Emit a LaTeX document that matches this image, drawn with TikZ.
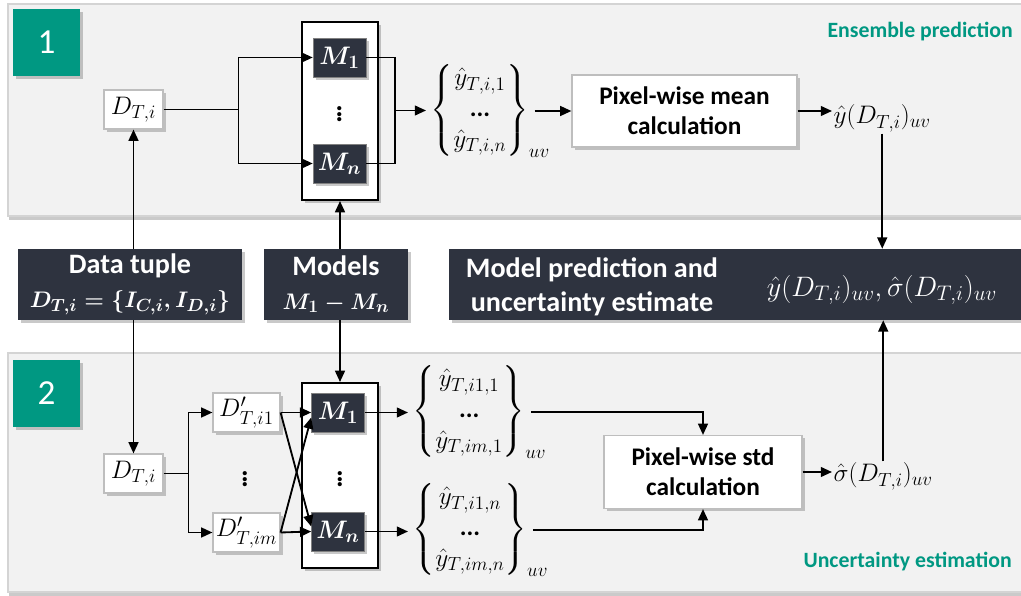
\RequirePackage{fix-cm}
\documentclass[tikz,border=0pt]{standalone}
\usepackage{amsmath,amssymb,mathtools}
\usepackage{fontspec}
\setmainfont{Carlito}
\DeclareMathSizes{16}{16}{12.5}{10}
\DeclareMathSizes{18}{18}{13.5}{10.5}
\DeclareMathSizes{20}{20}{15}{12}
\usepackage{xcolor}
\usepackage{tikz}
\usetikzlibrary{positioning,calc,arrows.meta,shadows}
\definecolor{badgeteal}{RGB}{0,152,130}
\definecolor{navybox}{RGB}{46,51,63}
\definecolor{panelfill}{RGB}{242,242,242}
\definecolor{panelline}{RGB}{212,212,212}
\definecolor{boxline}{RGB}{190,190,190}

\begin{document}
\begin{tikzpicture}[x=0.025cm, y=-0.025cm, font=\fontsize{18}{22}\selectfont,
    panel/.style={fill=panelfill, draw=panelline, line width=0.8pt,
        drop shadow={shadow xshift=1pt, shadow yshift=-2.5pt, opacity=0.35, fill=black!60}},
    lift/.style={drop shadow={shadow xshift=2pt, shadow yshift=-2pt, opacity=0.3, fill=black!70}},
    badge/.style={fill=badgeteal, text=white, minimum size=1.675cm, inner sep=0pt,
        font=\fontsize{25}{30}\selectfont, lift},
    wbox/.style={draw=boxline, fill=white, line width=0.8pt, inner sep=1pt, minimum height=0.975cm, lift},
    mbox/.style={fill=navybox, draw=gray, text=white, font=\fontsize{18}{22}\selectfont\boldmath,
        minimum width=1.325cm, minimum height=0.975cm, inner sep=0pt, lift},
    holder/.style={draw, line width=1.4pt, fill=white, minimum width=1.9cm, lift},
    infobox/.style={fill=navybox, text=white, align=center,
        font=\fontsize{20}{24}\selectfont\bfseries\boldmath, minimum height=1.775cm, lift},
    calcbox/.style={wbox, align=center, font=\fontsize{18}{21.5}\selectfont\bfseries},
    heading/.style={text=badgeteal, inner sep=0pt, font=\fontsize{15.5}{19}\selectfont\bfseries},
    vdot/.style={font=\fontsize{20}{24}\selectfont\bfseries},
    arr/.style={-{Triangle[length=8pt,width=7pt]}, line width=1.3pt},
    link/.style={line width=1.3pt}]
    \useasboundingbox (0,0) rectangle (1021,596);
    \clip (0,0) rectangle (1021,596);

    \draw[panel] (8,4) rectangle (1030,216);
    \draw[panel] (8,353) rectangle (1030,592);

    \node[badge] (one) at (46.5,42.5) {1};
    \node[heading, anchor=east] (enstitle) at (1013,32) {Ensemble prediction};
    \node[wbox, minimum width=1.475cm] (dtop) at (133.5,109.5) {$D_{T,i}$};
    \node[holder, minimum height=4.45cm] (box1) at (340,111) {};
    \node[mbox] (m1a) at (339.5,57.5) {$M_1$};
    \node[mbox] (mna) at (339.5,163.5) {$M_n$};
    \node[vdot] (dotsa) at (339.5,110) {$\vdots$};
    \node[anchor=west] (set1) at (426,111)
        {$\left\{\begin{matrix}\hat{y}_{T,i,1}\\ \text{\bfseries...}\\ \hat{y}_{T,i,n}\end{matrix}\right\}_{\mathrlap{uv}}$};
    \node[calcbox, minimum width=5.625cm, minimum height=1.8cm] (mean) at (684.5,111) {Pixel-wise mean\\calculation};
    \node[anchor=base west, inner sep=1pt] (yhat) at (832,124) {$\hat{y}(D_{T,i})_{uv}$};

    \node[infobox, minimum width=5.6cm] (tuple) at (130,284.5)
        {Data tuple\\{\fontsize{16}{24}\selectfont$D_{T,i}=\{I_{C,i},I_{D,i}\}$}};
    \node[infobox, minimum width=3.6cm] (models) at (336,284.5)
        {Models\\{\fontsize{16}{24}\selectfont$M_1-M_n$}};
    \node[infobox, minimum width=14.525cm] (pred) at (739.5,284.5) {};
    \node[align=center, text=white, font=\fontsize{20}{24}\selectfont\bfseries] (predtext) at (592,287)
        {Model prediction and\\uncertainty estimate};
    \node[text=white, font=\fontsize{20}{24}\selectfont] (predmath) at (882,290)
        {$\hat{y}(D_{T,i})_{uv},\hat{\sigma}(D_{T,i})_{uv}$};

    \node[badge] (two) at (46.5,393.5) {2};
    \node[heading, anchor=east] (unctitle) at (1012,562) {Uncertainty estimation};
    \node[wbox, minimum width=1.475cm] (dbot) at (133.5,473.5) {$D_{T,i}$};
    \node[wbox, minimum width=1.675cm] (dp1) at (246.5,412.5) {$D'_{T,i1}$};
    \node[wbox, minimum width=1.675cm] (dpm) at (246.5,532.5) {$D'_{T,im}$};
    \node[vdot] (dotsd) at (245,475) {$\vdots$};
    \node[holder, minimum height=4.625cm] (box2) at (340,475.5) {};
    \node[mbox] (m1b) at (338,412.5) {$M_1$};
    \node[mbox] (mnb) at (338,531.5) {$M_n$};
    \node[vdot] (dotsb) at (340,475) {$\vdots$};
    \node[anchor=west] (set2a) at (408,412)
        {$\left\{\begin{matrix}\hat{y}_{T,i1,1}\\ \text{\bfseries...}\\ \hat{y}_{T,im,1}\end{matrix}\right\}_{\mathrlap{uv}}$};
    \node[anchor=west] (set2b) at (408,530)
        {$\left\{\begin{matrix}\hat{y}_{T,i1,n}\\ \text{\bfseries...}\\ \hat{y}_{T,im,n}\end{matrix}\right\}_{\mathrlap{uv}}$};
    \node[calcbox, minimum width=4.95cm, minimum height=1.825cm] (std) at (703,472) {Pixel-wise std\\calculation};
    \node[anchor=base west, inner sep=1pt] (sig) at (832,482) {$\hat{\sigma}(D_{T,i})_{uv}$};

    \draw[link] (dtop.east) -- ++(75,0) coordinate (fork1);
    \draw[arr] (fork1) |- (m1a.west);
    \draw[arr] (fork1) |- (mna.west);
    \draw[link] (m1a.east) -| ++(29,53) coordinate (join1) |- (mna.east);
    \draw[arr] (join1) -- (join1 -| set1.west);
    \draw[arr] (set1.east |- mean.west) -- (mean.west);
    \draw[arr] (mean.east) -- (mean.east -| yhat.west);
    \draw[arr] (yhat.south) -- (yhat.south |- pred.north);

    \draw[arr] (dtop.south |- tuple.north) -- (dtop.south);
    \draw[arr] (tuple.south -| dbot.north) -- (dbot.north);
    \draw[arr] (box1.south |- models.north) -- (box1.south);
    \draw[arr] (box2.north |- models.south) -- (box2.north);

    \draw[link] (dbot.east) -- ++(25,0) coordinate (fork2);
    \draw[arr] (fork2) |- (dp1.west);
    \draw[arr] (fork2) |- (dpm.west);
    \draw[arr] (dp1.east) -- (m1b.west);
    \draw[arr] (dpm.east) -- (mnb.west);
    \draw[arr] (dp1.east) -- ($(mnb.west)+(0,-5)$);
    \draw[arr] (dpm.east) -- ($(m1b.west)+(0,5)$);
    \draw[arr] (m1b.east) -- (m1b.east -| set2a.west);
    \draw[arr] (mnb.east) -- (mnb.east -| set2b.west);
    \draw[arr] (set2a.east) -| (std.north);
    \draw[arr] (set2b.east) -| (std.south);
    \draw[arr] (std.east) -- (std.east -| sig.west);
    \draw[arr] (sig.north) -- (sig.north |- pred.south);
\end{tikzpicture}
\end{document}
